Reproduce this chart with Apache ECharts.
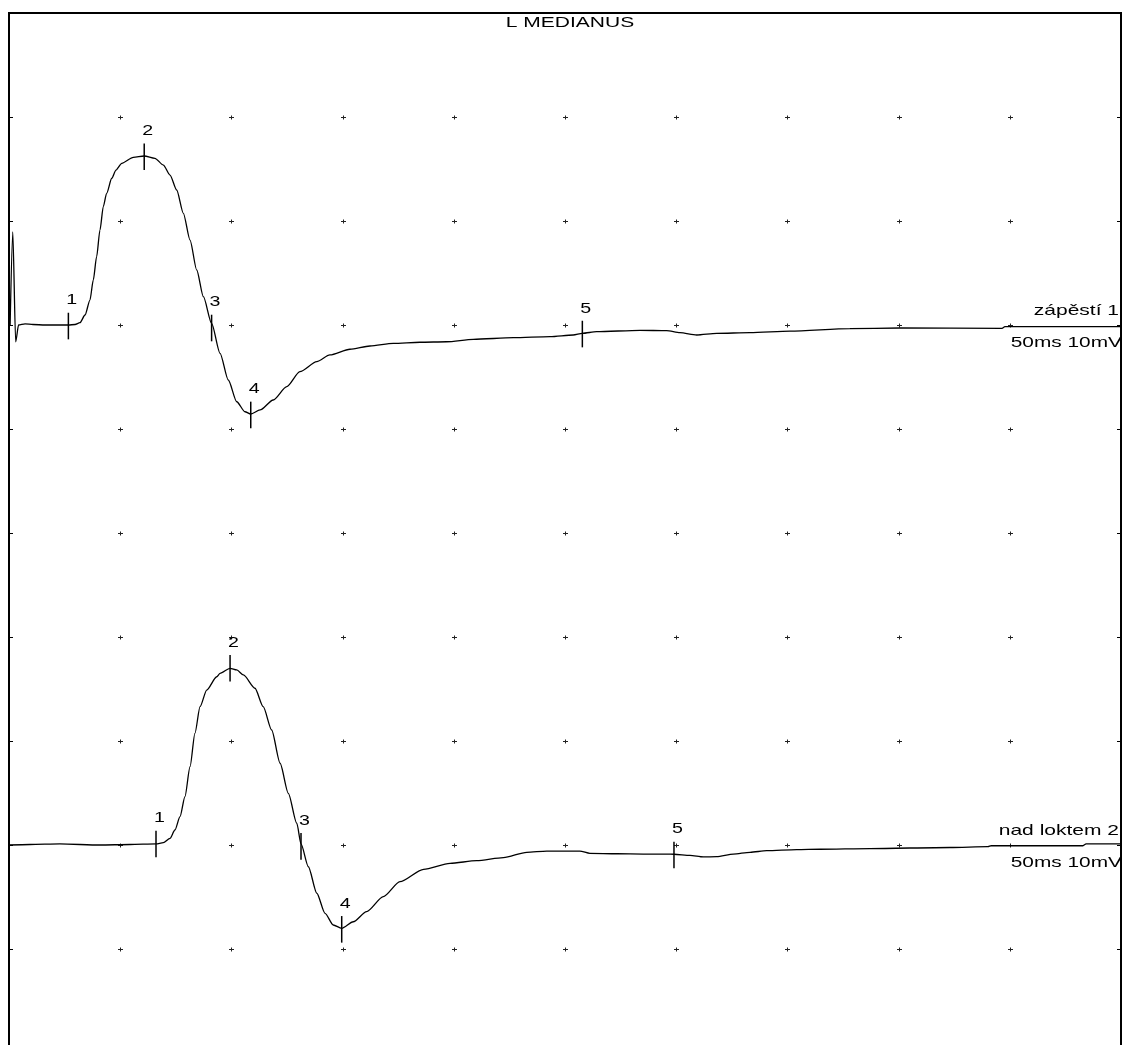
<!DOCTYPE html>
<html><head><meta charset="utf-8">
<script src="https://cdn.jsdelivr.net/npm/echarts@6/dist/echarts.min.js"></script>
<style>html,body{margin:0;padding:0;background:#fff}#c{width:1129px;height:1045px}</style>
</head><body><div id="c"></div>
<script>
const titleText = 'L MEDIANUS';
const xTicks = [0, 5, 10, 15, 20, 25, 30, 35, 40, 45, 50];
const yTicks = [0, 10, 20, 30, 40, 50, 60, 70, 80, 90, 100];
const trace1Name = 'zápěstí 1';
const trace2Name = 'nad loktem 2';
const scaleLabel = '50ms 10mV';
const base1 = 70, base2 = 20;

const t1x = [0.05,0.17,0.30,0.43,0.72,1.08,1.62,2.29,2.67,2.97,3.19,3.42,3.64,3.79,3.94,4.09,4.24,4.39,4.62,4.81,5.07,5.59,6.08,6.56,6.94,7.24,7.54,7.84,8.14,8.44,8.74,9.11,9.49,9.86,10.24,10.61,10.87,11.29,11.88,12.49,13.08,13.84,14.43,15.33,16.23,17.28,18.48,19.68,20.88,22.68,24.33,25.37,25.78,26.42,28.37,29.57,30.17,30.92,31.82,33.32,35.12,37.81,40.06,44.65,44.78,50.0];
const t1y = [0,8.94,-1.63,0,0.1,0.05,0,0,0,0.05,0.22,0.96,2.40,4.33,6.57,9.13,11.38,12.66,14.11,14.9,15.55,16.12,16.25,16.03,15.38,14.42,12.98,10.74,8.17,5.29,2.72,0.16,-2.72,-5.29,-7.38,-8.34,-8.56,-8.17,-7.21,-5.93,-4.49,-3.53,-2.88,-2.33,-2.02,-1.76,-1.66,-1.61,-1.38,-1.22,-1.12,-0.96,-0.80,-0.64,-0.51,-0.55,-0.74,-0.96,-0.80,-0.74,-0.58,-0.34,-0.29,-0.32,-0.16,-0.16];

const t2x = [0,0.94,2.29,4.09,5.44,6.61,6.94,7.24,7.46,7.69,7.91,8.14,8.36,8.59,8.89,9.34,9.49,9.94,10.24,10.54,11.06,11.43,11.81,12.19,12.56,12.94,13.13,13.46,13.84,14.21,14.58,14.96,15.48,16.08,16.83,17.58,18.64,19.83,21.03,22.23,23.28,24.18,25.67,26.12,27.33,28.52,29.57,29.90,30.62,31.22,31.82,32.57,33.32,34.07,35.42,36.47,38.71,42.31,44.02,44.16,48.29,48.43,50];
const t2y = [0,0.05,0.1,0,0.05,0.1,0.22,0.64,1.44,2.72,4.64,7.53,10.74,13.30,14.90,16.18,16.51,16.99,16.83,16.35,15.07,13.30,11.06,7.86,4.97,2.09,0.1,-2.09,-4.64,-6.57,-7.69,-8.01,-7.38,-6.41,-4.97,-3.53,-2.34,-1.76,-1.51,-1.22,-0.70,-0.58,-0.58,-0.80,-0.84,-0.87,-0.87,-0.89,-0.99,-1.15,-1.12,-0.87,-0.70,-0.55,-0.45,-0.41,-0.34,-0.24,-0.16,-0.07,-0.07,0.1,0.1];

const markerLabels = ['1', '2', '3', '4', '5'];
const m1x = [2.67, 6.08, 9.11, 10.87, 25.78];
const m1y = [-0.1, 16.18, -0.29, -8.65, -0.87];
const m2x = [6.61, 9.94, 13.13, 14.96, 29.90];
const m2y = [0.1, 16.99, -0.13, -8.11, -0.96];

const FONT = '"Liberation Sans", Arial, sans-serif';
const SX = 1.4;

const crossData = [];
xTicks.slice(1, -1).forEach(x => yTicks.slice(1, -1).forEach(y => crossData.push([x, y])));
const markerData = [];
m1x.forEach((x, i) => markerData.push([x, base1 + m1y[i], markerLabels[i]]));
m2x.forEach((x, i) => markerData.push([x, base2 + m2y[i], markerLabels[i]]));
const chanData = [[xTicks[xTicks.length - 1], base1, trace1Name], [xTicks[xTicks.length - 1], base2, trace2Name]];

const chart = echarts.init(document.getElementById('c'), null, {renderer: 'canvas'});
chart.setOption({
  animation: false,
  backgroundColor: '#fff',
  grid: {left: 9, top: 13, width: 1112, height: 1040, outerBoundsMode: 'none', containLabel: false,
    show: true, borderColor: '#000', borderWidth: 2, backgroundColor: 'transparent'},
  xAxis: {type: 'value', min: 0, max: 50, interval: 5, position: 'top',
    axisLine: {show: false}, axisLabel: {show: false}, splitLine: {show: false},
    axisTick: {show: true, inside: true, length: 4, lineStyle: {color: '#000', width: 1}}},
  yAxis: [
    {type: 'value', min: 0, max: 100, interval: 10, position: 'left',
      axisLine: {show: false}, axisLabel: {show: false}, splitLine: {show: false},
      axisTick: {show: true, inside: true, length: 4, lineStyle: {color: '#000', width: 1}}},
    {type: 'value', min: 0, max: 100, interval: 10, position: 'right',
      axisLine: {show: false}, axisLabel: {show: false}, splitLine: {show: false},
      axisTick: {show: true, inside: true, length: 4, lineStyle: {color: '#000', width: 1}}}
  ],
  graphic: [{type: 'text', x: 570, y: 23, scaleX: SX,
    style: {text: titleText, font: '15px ' + FONT, fill: '#000', align: 'center', verticalAlign: 'middle'}}],
  series: [
    {type: 'custom', data: crossData, silent: true, z: 1,
      renderItem: (params, api) => {
        const p = api.coord([api.value(0), api.value(1)]);
        const x = Math.round(p[0]) + 0.5, y = Math.round(p[1]) + 0.5;
        return {type: 'group', children: [
          {type: 'line', shape: {x1: x - 2.5, y1: y, x2: x + 2.5, y2: y}, style: {stroke: '#222', lineWidth: 1}},
          {type: 'line', shape: {x1: x, y1: y - 2, x2: x, y2: y + 2}, style: {stroke: '#222', lineWidth: 1}}
        ]};
      }},
    {type: 'line', name: trace1Name, data: t1x.map((x, i) => [x, base1 + t1y[i]]), showSymbol: false, symbol: 'none',
      smooth: 0.25, smoothMonotone: 'x', lineStyle: {color: '#000', width: 1.3}, z: 3},
    {type: 'line', name: trace2Name, data: t2x.map((x, i) => [x, base2 + t2y[i]]), showSymbol: false, symbol: 'none',
      smooth: 0.25, smoothMonotone: 'x', lineStyle: {color: '#000', width: 1.3}, z: 3},
    {type: 'custom', data: markerData, silent: true, z: 4,
      renderItem: (params, api) => {
        const p = api.coord([api.value(0), api.value(1)]);
        return {type: 'group', children: [
          {type: 'line', shape: {x1: p[0], y1: p[1] - 13.3, x2: p[0], y2: p[1] + 13.3}, style: {stroke: '#000', lineWidth: 1.5}},
          {type: 'text', x: p[0] + 3.4, y: p[1] - 25.4, scaleX: SX,
            style: {text: markerData[params.dataIndex][2], font: '14px ' + FONT, fill: '#000', align: 'center', verticalAlign: 'middle'}}
        ]};
      }},
    {type: 'custom', data: chanData, silent: true, z: 4,
      renderItem: (params, api) => {
        const p = api.coord([api.value(0), api.value(1)]);
        return {type: 'group', children: [
          {type: 'text', x: p[0] - 2, y: p[1] - 14.5, scaleX: SX,
            style: {text: chanData[params.dataIndex][2], font: '15px ' + FONT, fill: '#000', align: 'right', verticalAlign: 'middle'}},
          {type: 'text', x: p[0] - 110.3, y: p[1] + 17.5, scaleX: 1.39,
            style: {text: scaleLabel, font: '15px ' + FONT, fill: '#000', align: 'left', verticalAlign: 'middle'}}
        ]};
      }}
  ]
});
</script>
</body></html>
